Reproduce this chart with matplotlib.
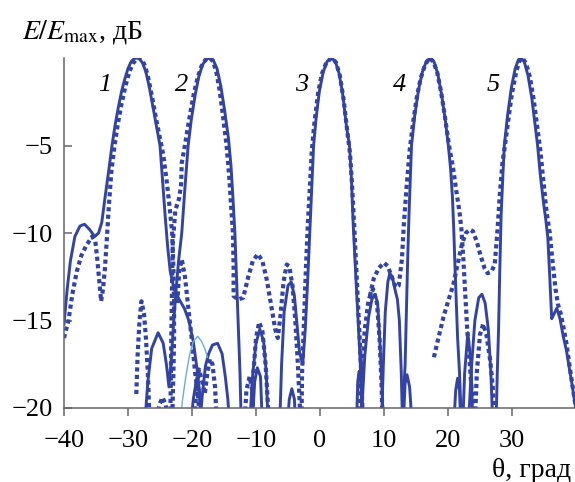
import matplotlib.pyplot as plt
import numpy as np

# radiation patterns: (theta, deg ; level, dB). solid = calculated, dotted = measured
beam1_solid = [(-40, -15.2), (-39.5, -13.2), (-39, -11.6), (-38.3, -10.2), (-37.5, -9.6), (-36.8, -9.5),
               (-36, -9.8), (-35.2, -10.2), (-34.6, -10.0), (-34.1, -9.4), (-33.6, -8.0), (-33.0, -6.4),
               (-32.5, -5.0), (-32.0, -3.8), (-31.5, -2.8), (-31.0, -1.9), (-30.5, -1.2), (-30.0, -0.6),
               (-29.5, -0.2), (-29.0, -0.03), (-28.6, 0), (-28.2, -0.05), (-27.7, -0.3), (-27.2, -0.8),
               (-26.7, -1.6), (-26.2, -2.6), (-25.6, -3.8), (-25.0, -5.0), (-24.6, -7.0), (-24.2, -9.0),
               (-23.8, -10.8), (-23.4, -12.2), (-22.8, -13.2), (-22.0, -13.8), (-21.2, -14.3), (-20.5, -15.0),
               (-19.8, -16.2), (-19.2, -17.8), (-18.7, -19.5), (-18.4, -21)]
beam1_dot = [(-40, -16.0), (-39.3, -15.0), (-38.7, -13.5), (-38.0, -12.2), (-37.3, -11.3), (-36.5, -10.7),
             (-35.6, -10.2), (-35.1, -10.5), (-34.8, -11.5), (-34.5, -12.7), (-34.2, -13.9), (-33.9, -13.2),
             (-33.6, -12.0), (-33.3, -10.3), (-33.0, -8.5), (-32.6, -6.5), (-32.1, -5.0), (-31.6, -3.8),
             (-31.0, -2.6), (-30.4, -1.6), (-29.8, -0.8), (-29.2, -0.3), (-28.6, -0.02), (-28.2, 0),
             (-27.8, -0.1), (-27.3, -0.5), (-26.8, -1.2), (-26.2, -2.3), (-25.6, -3.5), (-25.0, -4.6),
             (-24.5, -5.5), (-24.0, -6.9), (-23.5, -8.5), (-23.1, -10.0), (-22.9, -12.0), (-22.8, -14.0),
             (-22.8, -16.0), (-22.9, -18.0), (-23.0, -19.3), (-23.1, -21)]

beam2_solid = [(-27.4, -21), (-26.9, -18.5), (-26.3, -16.6), (-25.3, -15.7), (-24.5, -16.3), (-24.0, -17.5),
               (-23.6, -18.8), (-23.3, -17.5), (-22.9, -15.3), (-22.5, -13.3), (-22.1, -11.6), (-21.6, -10.0),
               (-21.1, -7.4), (-20.6, -5.0), (-20.1, -3.5), (-19.5, -2.1), (-18.9, -1.0), (-18.3, -0.35),
               (-17.7, -0.05), (-17.2, 0), (-16.7, -0.1), (-16.1, -0.6), (-15.5, -1.6), (-14.9, -3.0),
               (-14.3, -4.6), (-13.9, -6.2), (-13.6, -8.0), (-13.3, -10.0), (-13.1, -12.0), (-12.9, -14.0),
               (-12.7, -16.0), (-12.5, -18.0), (-12.3, -21)]
beam2_dot = [(-23.4, -21), (-23.3, -18), (-23.2, -15), (-23.1, -12.5), (-23.0, -10.5), (-22.6, -8.7),
             (-22.0, -8.0), (-21.7, -7.2), (-21.6, -6.0), (-21.2, -5.2), (-20.8, -4.3), (-20.3, -3.2),
             (-19.7, -2.0), (-19.1, -1.1), (-18.5, -0.45), (-17.9, -0.1), (-17.2, 0), (-16.7, -0.2),
             (-16.2, -0.8), (-15.7, -1.8), (-15.2, -3.2), (-14.6, -5.0), (-14.2, -6.7), (-13.9, -8.4),
             (-13.6, -10.0), (-13.5, -12.0), (-13.5, -13.6), (-12.8, -13.8), (-12.0, -13.7), (-11.2, -12.5),
             (-10.5, -11.6), (-9.7, -11.2), (-9.0, -11.6), (-8.3, -12.7), (-7.6, -14.2), (-7.0, -15.5),
             (-6.6, -16.0), (-6.2, -14.8), (-5.7, -12.8), (-5.2, -11.8), (-4.8, -11.9), (-4.3, -13.0),
             (-3.9, -14.8), (-3.5, -17.2), (-3.2, -19.5), (-3.0, -21)]

beam3_solid = [(-6.3, -21), (-6.0, -17.5), (-5.6, -14.5), (-5.0, -13.0), (-4.5, -12.8), (-4.0, -13.6),
               (-3.6, -15.2), (-3.2, -16.8), (-2.7, -17.5), (-2.3, -15.5), (-1.9, -12.5), (-1.6, -10.0),
               (-1.3, -7.5), (-1.0, -5.0), (-0.6, -3.4), (-0.1, -1.9), (0.5, -0.8), (1.1, -0.2), (1.8, 0),
               (2.4, -0.2), (3.0, -0.9), (3.6, -2.2), (4.1, -3.8), (4.6, -5.0), (4.9, -6.8), (5.2, -9.6),
               (5.6, -12.5), (6.0, -15.3), (6.3, -17.5), (6.6, -19.5), (6.8, -21)]
beam3_dot = [(-2.9, -21), (-2.8, -18), (-2.5, -15), (-2.2, -12), (-1.9, -9.5), (-1.6, -7.5), (-1.3, -5.4),
             (-0.9, -3.8), (-0.3, -2.0), (0.3, -0.9), (1.0, -0.25), (1.8, 0), (2.5, -0.25), (3.1, -1.0),
             (3.7, -2.4), (4.2, -4.0), (4.7, -5.5), (5.0, -7.2), (5.4, -10.0), (5.8, -13.0), (6.2, -16.0),
             (6.5, -18.5), (6.7, -21)]

beam4_solid = [(12.9, -21), (13.1, -19), (13.3, -17.5), (13.5, -14.5), (13.7, -11.5), (13.9, -9.0),
               (14.3, -5.0), (14.8, -3.3), (15.4, -1.8), (16.0, -0.8), (16.6, -0.2), (17.2, 0), (17.8, -0.2),
               (18.4, -0.9), (19.0, -2.1), (19.6, -3.6), (20.05, -5.0), (20.4, -6.3), (20.7, -8.0),
               (20.9, -9.8), (21.1, -12.0), (21.3, -14.0), (21.5, -16.0), (21.8, -18.0), (22.1, -21)]
beam4_dot = [(7.8, -13.6), (8.4, -12.6), (9.2, -12.0), (10.0, -11.7), (10.6, -11.9), (11.2, -12.5),
             (11.8, -13.1), (12.3, -13.0), (12.8, -11.5), (13.1, -9.5), (13.5, -7.5), (14.0, -5.3),
             (14.5, -3.8), (15.1, -2.3), (15.7, -1.2), (16.4, -0.4), (17.1, 0), (17.7, -0.2), (18.3, -0.8),
             (18.9, -1.9), (19.5, -3.3), (20.0, -4.6), (20.3, -5.3), (20.8, -6.3), (21.3, -7.6), (21.8, -8.8),
             (22.1, -9.8), (22.4, -11.5), (22.7, -13.5), (23.0, -15.5), (23.4, -17.5), (23.8, -19.5),
             (24.0, -21)]

beam5_solid = [(27.5, -21), (27.7, -18), (27.9, -15.5), (28.1, -12), (28.3, -9), (28.6, -6.5), (28.8, -5),
               (29.3, -3.3), (29.9, -1.7), (30.5, -0.6), (31.0, -0.1), (31.4, 0), (31.9, -0.2), (32.5, -1.0),
               (33.1, -2.3), (33.6, -3.8), (34.0, -5.0), (34.4, -6.6), (34.9, -8.2), (35.3, -9.3),
               (35.6, -10.3), (35.9, -12.5), (36.2, -14.9), (36.6, -14.6), (37.0, -14.3), (37.5, -14.9),
               (38.0, -15.9), (38.5, -16.7), (38.9, -17.6), (39.4, -18.7), (39.9, -19.9), (40.3, -21)]
beam5_dot = [(17.8, -17.1), (18.5, -16.0), (19.3, -14.8), (20.1, -13.8), (20.8, -13.0), (21.5, -11.8),
             (22.2, -10.6), (22.8, -10.0), (23.4, -9.8), (23.9, -9.9), (24.5, -10.5), (25.1, -11.3),
             (25.7, -12.0), (26.2, -12.3), (26.8, -12.2), (27.3, -11.8), (27.7, -10.0), (28.1, -7.8),
             (28.5, -6.0), (28.9, -5.0), (29.4, -3.6), (30.0, -2.0), (30.6, -0.9), (31.1, -0.2), (31.6, 0),
             (32.2, -0.3), (32.8, -1.1), (33.4, -2.4), (34.0, -4.1), (34.4, -5.2), (34.9, -7.0), (35.4, -8.8),
             (35.9, -10.0), (36.3, -11.5), (36.8, -13.2), (37.2, -14.1), (37.6, -14.6), (38.1, -15.5),
             (38.5, -16.3), (39.0, -17.6), (39.6, -19.1), (40.2, -20.5)]

# loose side lobes, one list per lobe
side_solid = [
    [(-11.0, -21), (-10.5, -18), (-10.0, -16.3), (-9.4, -15.5), (-8.8, -16.2), (-8.4, -18), (-8.1, -21)],
    [(-10.6, -21), (-10.2, -18.5), (-9.8, -17.7), (-9.3, -18.2), (-9.0, -21)],
    [(-5.1, -21), (-4.8, -19.5), (-4.4, -18.9), (-4.0, -19.5), (-3.8, -21)],
    [(6.4, -21), (7.0, -17), (7.6, -14.8), (8.1, -13.8), (8.6, -13.5), (9.0, -14.0), (9.4, -16.5),
     (9.7, -19), (9.9, -21)],
    [(5.7, -21), (5.9, -18.5), (6.1, -17.9), (6.4, -18.5), (6.6, -21)],
    [(9.6, -21), (9.9, -17.5), (10.2, -14.5), (10.6, -12.8), (10.9, -12.3), (11.3, -12.5), (11.7, -13.2),
     (12.1, -13.8), (12.4, -15), (12.7, -18), (12.9, -21)],
    [(13.0, -21), (13.3, -18.6), (13.6, -18.1), (14.0, -18.8), (14.4, -21)],
    [(20.9, -21), (21.2, -19), (21.5, -18.3), (21.8, -19), (22.0, -21)],
    [(22.3, -21), (22.6, -18), (23.1, -15.7), (23.6, -17.5), (23.9, -21)],
    [(23.2, -21), (23.6, -18), (24.2, -15), (24.8, -13.7), (25.3, -13.5), (25.8, -14), (26.3, -15.5),
     (26.7, -18), (27.0, -21)],
    [(-18.8, -21), (-18.4, -19.3), (-17.9, -17.6), (-17.4, -16.9), (-16.8, -16.4), (-16.0, -16.3),
     (-15.3, -16.9), (-14.8, -18.2), (-14.4, -19.5), (-14.1, -21)],
    [(-20.2, -21), (-19.8, -19.5), (-19.3, -18.4), (-18.9, -18.9), (-18.6, -21)],
]
side_dot = [
    [(6.1, -21), (6.5, -18), (7.0, -15.5), (7.6, -13.8), (8.3, -13.2), (8.9, -14.0), (9.3, -16),
     (9.6, -18.5), (9.8, -21)],
    [(24.2, -21), (24.5, -18), (25.0, -15.8), (25.5, -15.2), (26.0, -15.8), (26.6, -17.3), (27.0, -18.8),
     (27.3, -21)],
    [(-28.7, -19.2), (-28.5, -17), (-28.2, -15), (-27.9, -13.9), (-27.5, -14.6), (-27.2, -16),
     (-26.9, -18), (-26.7, -20), (-26.6, -21)],
    [(-25.5, -21), (-25.1, -19.8), (-24.6, -19.4), (-24.1, -19.8), (-23.8, -21)],
    [(-22.3, -14), (-22.0, -12.2), (-21.6, -11.5), (-21.1, -12.5), (-20.6, -14.2), (-20.0, -16.2),
     (-19.5, -18), (-19.0, -19.5), (-18.8, -21)],
    [(-19.6, -21), (-19.3, -18.6), (-18.9, -17.8), (-18.4, -18.5), (-18.0, -19.2), (-17.6, -18.0),
     (-17.2, -17.2), (-16.8, -17.5), (-16.4, -18.8), (-16.1, -21)],
    [(-11.8, -21), (-11.5, -19.0), (-11.0, -18.2), (-10.6, -19.0), (-10.3, -21)],
    [(-10.8, -21), (-10.4, -18), (-10.0, -16), (-9.5, -15.1), (-9.0, -15.6), (-8.5, -17.5), (-8.1, -20),
     (-8.0, -21)],
]
thin_lobe = [(-21.9, -21), (-21.5, -19.6), (-21.0, -18.3), (-20.4, -17.0), (-19.8, -16.2), (-19.1, -15.9),
             (-18.5, -16.2), (-18.0, -16.6), (-17.6, -17.1)]

beam_labels = ['1', '2', '3', '4', '5']
label_theta = [-33.6, -21.6, -2.8, 12.5, 27.0]
label_db = -1.55

xticks = [-40, -30, -20, -10, 0, 10, 20, 30]
yticks = [-5, -10, -15, -20]

plt.rcParams['font.family'] = ['Liberation Serif', 'DejaVu Serif']
plt.rcParams['mathtext.fontset'] = 'stix'

blue = '#3343a3'
solid_kw = dict(color=blue, lw=2.1, solid_joinstyle='round')
dot_kw = dict(color=blue, lw=3.0, linestyle=(0, (1.0, 0.8)), dash_capstyle='butt')

fig = plt.figure(figsize=(5.75, 4.82), dpi=100)
ax = fig.add_axes([64 / 575, 74 / 482, 512 / 575, 350 / 482])

for curve in [beam1_solid, beam2_solid, beam3_solid, beam4_solid, beam5_solid] + side_solid:
    th, db = np.array(curve).T
    ax.plot(th, db, **solid_kw)
for curve in [beam1_dot, beam2_dot, beam3_dot, beam4_dot, beam5_dot] + side_dot:
    th, db = np.array(curve).T
    ax.plot(th, db, **dot_kw)
th, db = np.array(thin_lobe).T
ax.plot(th, db, color='#6aaed6', lw=1.0)

for lab, x in zip(beam_labels, label_theta):
    ax.text(x, label_db, lab, fontsize=19, style='italic', ha='center', va='center')

ax.set_xlim(-40, 40)
ax.set_ylim(-20, 0)
ax.set_xticks(xticks)
ax.set_yticks(yticks)
ax.set_xticklabels([f'{v}'.replace('-', '\u2212') for v in xticks])
ax.set_yticklabels([f'{v}'.replace('-', '\u2212') for v in yticks])
for s in ['top', 'right']:
    ax.spines[s].set_visible(False)
for s in ['left', 'bottom']:
    ax.spines[s].set_color('#666666')
    ax.spines[s].set_linewidth(1.1)
ax.tick_params(axis='y', direction='in', length=6, width=1.1, color='#666666', labelsize=19, pad=8)
ax.tick_params(axis='x', direction='out', length=6, width=1.1, color='#666666', labelsize=19, pad=10)

fig.text(22 / 575, 1 - 38 / 482, r'$E/E_{\rm max}$, дБ', fontsize=20, ha='left', va='baseline')
fig.text(571 / 575, 1 - 477 / 482, 'θ, град', fontsize=20, ha='right', va='baseline')

fig.savefig('out.png', dpi=100)
